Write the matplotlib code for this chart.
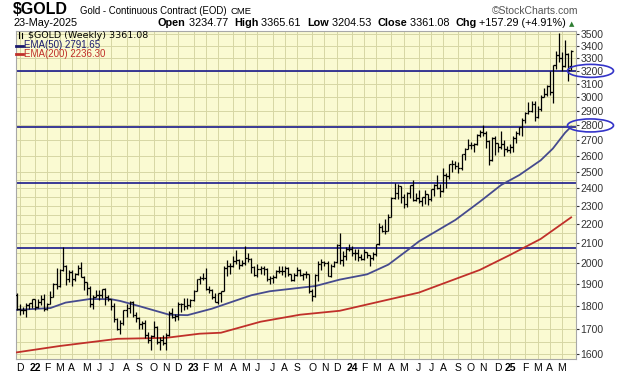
import numpy as np
import pandas as pd
import matplotlib
matplotlib.use("Agg")
import matplotlib.pyplot as plt
from matplotlib.patches import Ellipse
from matplotlib.lines import Line2D
from matplotlib.ticker import FixedLocator, NullFormatter

# weekly OHLC bars, weeks ending Friday 26-Nov-2021 .. 23-May-2025
opens = [1851, 1788, 1784, 1783, 1805, 1811,
         1829, 1797, 1817, 1832, 1786, 1808, 1842, 1900, 1889, 1966, 1985, 1921, 1958, 1923, 1945, 1974, 1934, 1911, 1882, 1808,
         1842, 1851, 1850, 1875, 1840, 1830, 1801, 1742, 1703, 1727, 1781, 1791, 1816, 1762, 1749, 1722, 1728, 1677, 1655, 1672,
         1709, 1649, 1657, 1645, 1676, 1771, 1754, 1755, 1809, 1810, 1800, 1804,
         1826, 1869, 1921, 1926, 1929, 1877, 1874, 1842, 1818, 1856, 1867, 1973, 1983, 1986, 2011, 2015, 1990, 1999, 2025, 2019,
         1981, 1944, 1969, 1977, 1971, 1921, 1929, 1932, 1961, 1962, 1960, 1976, 1946, 1916, 1940, 1966, 1942, 1946, 1945, 1866,
         1845, 1941, 1994, 2005, 1999, 1937, 1984, 2003, 2089, 2014, 2036, 2069,
         2071, 2050, 2051, 2029, 2018, 2053, 2038, 2024, 2045, 2096, 2186, 2161, 2165, 2238, 2345, 2374, 2413, 2348, 2308, 2375,
         2419, 2334, 2345, 2325, 2349, 2369, 2336, 2397, 2421, 2400, 2385, 2480, 2472, 2546, 2546, 2536, 2525, 2611, 2646, 2668,
         2667, 2676, 2736, 2755, 2749, 2694, 2570, 2712, 2681, 2657, 2675, 2645,
         2635, 2655, 2716, 2748, 2791, 2835, 2887, 2900, 2954, 2858, 2914, 3001, 3022, 3085, 3036, 3245, 3328, 3299, 3241, 3334,
         3234.77]
highs = [1858, 1807, 1796, 1815, 1813, 1830,
         1831, 1830, 1849, 1854, 1812, 1867, 1906, 1976, 1970, 2079, 1992, 1967, 1966, 1952, 1988, 2003, 1936, 1911, 1890, 1849,
         1870, 1874, 1877, 1881, 1848, 1832, 1814, 1747, 1740, 1784, 1808, 1824, 1824, 1772, 1753, 1736, 1738, 1689, 1677, 1736,
         1714, 1669, 1676, 1683, 1776, 1793, 1765, 1817, 1812, 1836, 1834, 1833,
         1872, 1924, 1937, 1950, 1975, 1891, 1878, 1856, 1858, 1868, 1985, 2014, 2000, 2035, 2063, 2019, 2012, 2085, 2048, 2023,
         1985, 1995, 1985, 1983, 1973, 1935, 1942, 1966, 1987, 1985, 1987, 1978, 1946, 1950, 1979, 1969, 1949, 1962, 1945, 1875,
         1946, 2009, 2019, 2011, 2008, 1994, 2008, 2095, 2152, 2058, 2081, 2094,
         2085, 2069, 2068, 2042, 2071, 2054, 2041, 2052, 2096, 2203, 2195, 2225, 2256, 2350, 2431, 2425, 2415, 2366, 2381, 2422,
         2450, 2375, 2391, 2352, 2388, 2370, 2399, 2424, 2483, 2429, 2522, 2491, 2550, 2570, 2564, 2559, 2613, 2652, 2709, 2690,
         2681, 2740, 2772, 2802, 2761, 2699, 2721, 2726, 2682, 2762, 2699, 2665,
         2675, 2726, 2759, 2792, 2853, 2895, 2968, 2974, 2972, 2933, 3017, 3065, 3093, 3201, 3250, 3358, 3509, 3350, 3450, 3343,
         3365.61]
lows = [1781, 1761, 1765, 1753, 1787, 1789,
        1783, 1791, 1806, 1780, 1781, 1808, 1840, 1878, 1887, 1960, 1895, 1910, 1890, 1915, 1943, 1932, 1872, 1851, 1797, 1786,
        1838, 1828, 1836, 1805, 1823, 1784, 1732, 1697, 1680, 1717, 1754, 1771, 1753, 1729, 1701, 1701, 1663, 1643, 1615, 1669,
        1642, 1618, 1637, 1616, 1673, 1748, 1734, 1741, 1774, 1784, 1787, 1797,
        1821, 1865, 1899, 1916, 1871, 1859, 1831, 1817, 1809, 1819, 1866, 1935, 1945, 1978, 1995, 1972, 1984, 1991, 2007, 1952,
        1936, 1932, 1947, 1942, 1913, 1901, 1903, 1929, 1953, 1942, 1930, 1938, 1913, 1912, 1935, 1937, 1917, 1929, 1859, 1823,
        1840, 1915, 1964, 1983, 1935, 1932, 1978, 2000, 1994, 1987, 2016, 2057,
        2035, 2016, 2009, 2012, 2014, 2026, 1984, 2015, 2034, 2092, 2158, 2146, 2160, 2237, 2337, 2341, 2314, 2285, 2293, 2346,
        2325, 2326, 2314, 2300, 2313, 2304, 2325, 2356, 2396, 2353, 2379, 2400, 2459, 2498, 2515, 2491, 2510, 2576, 2642, 2640,
        2625, 2666, 2722, 2731, 2652, 2541, 2565, 2602, 2626, 2644, 2597, 2624,
        2620, 2625, 2685, 2735, 2730, 2817, 2882, 2895, 2832, 2852, 2904, 2999, 3012, 3015, 2957, 3212, 3268, 3202, 3232, 3121,
        3204.53]
closes = [1788, 1784, 1783, 1805, 1811, 1829,
          1797, 1817, 1832, 1786, 1808, 1842, 1900, 1889, 1966, 1985, 1921, 1958, 1923, 1945, 1974, 1934, 1911, 1882, 1808, 1842,
          1851, 1850, 1875, 1840, 1830, 1801, 1742, 1703, 1727, 1781, 1791, 1816, 1762, 1749, 1722, 1728, 1677, 1655, 1672, 1709,
          1649, 1657, 1645, 1676, 1771, 1754, 1755, 1809, 1810, 1800, 1804, 1826,
          1869, 1921, 1926, 1929, 1877, 1874, 1842, 1818, 1856, 1867, 1973, 1983, 1986, 2011, 2015, 1990, 1999, 2025, 2019, 1981,
          1944, 1969, 1977, 1971, 1921, 1929, 1932, 1961, 1962, 1960, 1976, 1946, 1916, 1940, 1966, 1942, 1946, 1945, 1866, 1845,
          1941, 1994, 2005, 1999, 1937, 1984, 2003, 2089, 2014, 2036, 2069, 2071,
          2050, 2051, 2029, 2018, 2053, 2038, 2024, 2045, 2096, 2186, 2161, 2165, 2238, 2345, 2374, 2413, 2348, 2308, 2375, 2419,
          2334, 2345, 2325, 2349, 2369, 2336, 2397, 2421, 2400, 2385, 2480, 2472, 2546, 2546, 2536, 2525, 2611, 2646, 2668, 2667,
          2676, 2736, 2755, 2749, 2694, 2570, 2712, 2681, 2657, 2675, 2645, 2635,
          2655, 2716, 2748, 2791, 2835, 2887, 2900, 2954, 2858, 2914, 3001, 3022, 3085, 3036, 3245, 3328, 3299, 3241, 3334, 3204,
          3361.08]

# moving averages (week number, value)
ema50_wk = [0, 11, 16, 24, 31, 34, 40, 50, 56, 64, 77, 83, 93, 98, 106, 115, 122, 128, 132, 144, 152, 159, 165, 172, 176, 180, 182]
ema50 = [1783, 1791, 1815, 1831, 1830, 1822, 1800, 1762, 1760, 1788, 1848, 1866, 1882, 1890, 1920, 1945, 1992, 2060, 2108,
         2222, 2323, 2420, 2480, 2571, 2646, 2750, 2792]
ema200_wk = [0, 14, 33, 49, 60, 67, 80, 93, 106, 132, 152, 162, 172, 182]
ema200 = [1607, 1632, 1661, 1665, 1682, 1686, 1732, 1762, 1779, 1860, 1966, 2040, 2121, 2236]

levels = [3200, 2790, 2430, 2075]
ring_levels = [3200, 2800]

SANS = 'Liberation Sans'
W, H = 620, 376
fig = plt.figure(figsize=(W / 100, H / 100), dpi=100)
ax = fig.add_axes([16 / W, 17 / H, 560 / W, 328 / H])
ax.set_facecolor('#fafad2')

dates = pd.date_range('2021-11-26', periods=len(closes), freq='W-FRI')
x = np.arange(len(closes))

# grid
ax.set_yscale('log')
yt = list(range(1600, 3600, 100))
ax.yaxis.set_major_locator(FixedLocator(yt))
ax.yaxis.set_minor_locator(FixedLocator([v + 50 for v in range(1600, 2500, 100)]))
ax.yaxis.set_minor_formatter(NullFormatter())
ax.set_yticklabels([str(v) for v in yt], fontfamily=SANS)
ax.yaxis.tick_right()
ax.tick_params(axis='y', which='major', length=2, pad=1, labelsize=7.5, colors='#333333')
ax.tick_params(axis='y', which='minor', length=0)

month_pos, month_lab, is_year = [], [], []
for i in range(1, len(dates)):
    if dates[i].month != dates[i - 1].month:
        month_pos.append(i)
        if dates[i].month == 1:
            month_lab.append(dates[i].strftime('%y'))
            is_year.append(True)
        else:
            month_lab.append(dates[i].strftime('%b')[0])
            is_year.append(False)
ax.set_xticks(month_pos)
ax.set_xticklabels(month_lab, fontfamily=SANS)
ax.tick_params(axis='x', length=0, pad=3, labelsize=7.5)
for lab, yr in zip(ax.get_xticklabels(), is_year):
    if yr:
        lab.set_fontweight('bold')

ax.grid(True, which='both', color='#d6d6a4', lw=0.7)
ax.set_axisbelow(True)

for lvl in levels:
    ax.axhline(lvl, color='#1a1a8c', lw=1.2, zorder=2)

ax.plot(ema50_wk, ema50, color='#454a8e', lw=1.3, zorder=3)
ax.plot(ema200_wk, ema200, color='#c0302a', lw=1.3, zorder=3)

ax.vlines(x, lows, highs, color='black', lw=0.9, zorder=4)
ax.hlines(opens, x - 0.6, x, color='black', lw=0.9, zorder=4)
ax.hlines(closes, x, x + 0.6, color='black', lw=0.9, zorder=4)

ax.set_xlim(-0.3, 183.6)
ax.set_ylim(1581, 3528)
for s in ax.spines.values():
    s.set_color('#a8a8a8')
    s.set_linewidth(0.8)

# circled price labels
for lvl in ring_levels:
    yp = ax.transData.transform((0, lvl))[1]
    e = Ellipse((590.5 / W, yp / H), 46 / W, 13 / H, transform=fig.transFigure,
                fill=False, edgecolor='#3434c8', lw=1.2)
    fig.add_artist(e)

fig.canvas.draw()
r = fig.canvas.get_renderer()

# header
fig.text(13 / W, 1 - 14 / H, '$GOLD', fontsize=11.5, fontweight='bold', family=SANS, va='baseline')
name = fig.text(80 / W, 1 - 14 / H, 'Gold - Continuous Contract (EOD)', fontsize=8, family=SANS, va='baseline')
nw = name.get_window_extent(r).width
name.set_fontsize(8 * 148 / nw)
nw = name.get_window_extent(r).width
fig.text((80 + nw + 4) / W, 1 - 14 / H, 'CME', fontsize=6.8, family=SANS, va='baseline')
fig.text(578 / W, 1 - 14 / H, '\u00a9StockCharts.com', fontsize=7.5, family=SANS, color='#555555',
         va='baseline', ha='right')
fig.text(13 / W, 1 - 26 / H, '23-May-2025', fontsize=7.8, family=SANS, va='baseline')

parts = [('Open', True), (' 3234.77  ', False), ('High', True), (' 3365.61  ', False), ('Low', True),
         (' 3204.53  ', False), ('Close', True), (' 3361.08  ', False), ('Chg', True), (' +157.29 (+4.91%)', False)]
xp = 158
for txt, b in parts:
    t = fig.text(xp / W, 1 - 26 / H, txt, fontsize=7.8, family=SANS, va='baseline',
                 fontweight='bold' if b else 'normal')
    xp += t.get_window_extent(r).width
fig.text((xp + 3) / W, 1 - 26 / H, '\u25b2', fontsize=5, color='#2e7d32', va='baseline')

# legend inside plot
fig.text(28 / W, 1 - 38 / H, '$GOLD (Weekly) 3361.08', fontsize=6.8, va='baseline')
fig.add_artist(Line2D([19 / W, 19 / W], [1 - 38 / H, 1 - 31.5 / H], color='black', lw=0.8, transform=fig.transFigure))
fig.add_artist(Line2D([22 / W, 22 / W], [1 - 38 / H, 1 - 32.5 / H], color='black', lw=0.8, transform=fig.transFigure))
fig.text(24 / W, 1 - 48.5 / H, 'EMA(50) 2791.65', fontsize=7, family=SANS, color='#1a1a6e', va='baseline')
fig.add_artist(Line2D([16 / W, 23 / W], [1 - 45.5 / H, 1 - 45.5 / H], color='#1a1a6e', lw=2, transform=fig.transFigure))
fig.text(24 / W, 1 - 57 / H, 'EMA(200) 2236.30', fontsize=7, family=SANS, color='#c0302a', va='baseline')
fig.add_artist(Line2D([16 / W, 23 / W], [1 - 54 / H, 1 - 54 / H], color='#c0302a', lw=2, transform=fig.transFigure))

fig.savefig('out.png', dpi=100)
